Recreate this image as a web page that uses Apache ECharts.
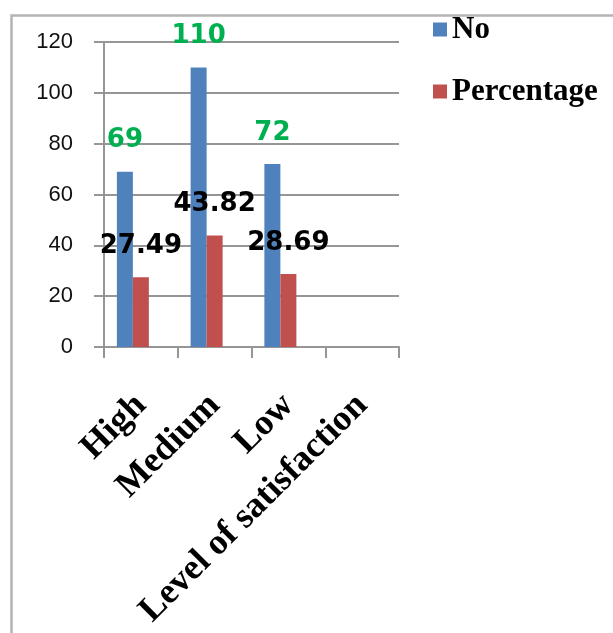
<!DOCTYPE html>
<html>
<head>
<meta charset="utf-8">
<script src="https://cdn.jsdelivr.net/npm/echarts@6/dist/echarts.min.js"></script>
<style>
html,body{margin:0;padding:0;background:#fff;}
#chart{width:613px;height:633px;}
</style>
</head>
<body>
<div id="chart"></div>
<script>
var categories = ['High', 'Medium', 'Low', 'Level of satisfaction'];
var noValues = [69, 110, 72, null];
var percentageValues = [27.49, 43.82, 28.69, null];
var emptyValues = [null, null, null, null];
var yTicks = [0, 20, 40, 60, 80, 100, 120];
var seriesNames = ['No', 'Percentage'];

var chart = echarts.init(document.getElementById('chart'), null, {renderer: 'canvas'});
var gridColor = '#969696';
var option = {
  backgroundColor: '#ffffff',
  animation: false,
  graphic: [{
    type: 'rect', left: 9, top: 13, z: -1,
    shape: {width: 700, height: 700},
    style: {fill: 'none', stroke: '#b4b4b4', lineWidth: 2.5}
  }],
  legend: {
    data: seriesNames,
    orient: 'vertical',
    left: 428, top: 9,
    itemWidth: 14, itemHeight: 14, itemGap: 31,
    icon: 'rect',
    textStyle: {fontFamily: 'Liberation Serif', fontWeight: 'bold', fontSize: 31, color: '#000'}
  },
  grid: {left: 104, right: 214, top: 42, bottom: 286, containLabel: false},
  xAxis: {
    type: 'category',
    data: categories,
    boundaryGap: true,
    axisLine: {lineStyle: {color: gridColor, width: 2}},
    axisTick: {show: true, length: 11, lineStyle: {color: gridColor, width: 2}},
    axisLabel: {
      interval: 0, rotate: 45, margin: 53,
      fontFamily: 'Liberation Serif', fontWeight: 'bold', fontSize: 36, color: '#000'
    }
  },
  yAxis: {
    type: 'value',
    min: yTicks[0], max: yTicks[yTicks.length - 1], interval: 20,
    axisLine: {show: true, lineStyle: {color: gridColor, width: 2}},
    axisTick: {show: true, length: 10, lineStyle: {color: gridColor, width: 2}},
    splitLine: {lineStyle: {color: gridColor, width: 2}},
    axisLabel: {margin: 31, fontFamily: 'Liberation Sans', fontSize: 22, color: '#111'}
  },
  series: [{
    name: seriesNames[0], type: 'bar', data: noValues,
    barWidth: 16, barGap: '0%',
    itemStyle: {color: '#4f81bd'},
    label: {show: true, position: 'top', distance: 18,
      fontFamily: 'DejaVu Sans', fontWeight: 'bold', fontSize: 26, color: '#00b050'}
  }, {
    name: seriesNames[1], type: 'bar', data: percentageValues,
    barWidth: 16, barGap: '0%',
    itemStyle: {color: '#c0504d'},
    label: {show: true, position: 'top', distance: 18,
      fontFamily: 'DejaVu Sans', fontWeight: 'bold', fontSize: 26, color: '#000'}
  }, {
    name: 'blank', type: 'bar', data: emptyValues,
    barWidth: 16, barGap: '0%',
    itemStyle: {color: '#9bbb59'}
  }]
};
chart.setOption(option);
</script>
</body>
</html>
